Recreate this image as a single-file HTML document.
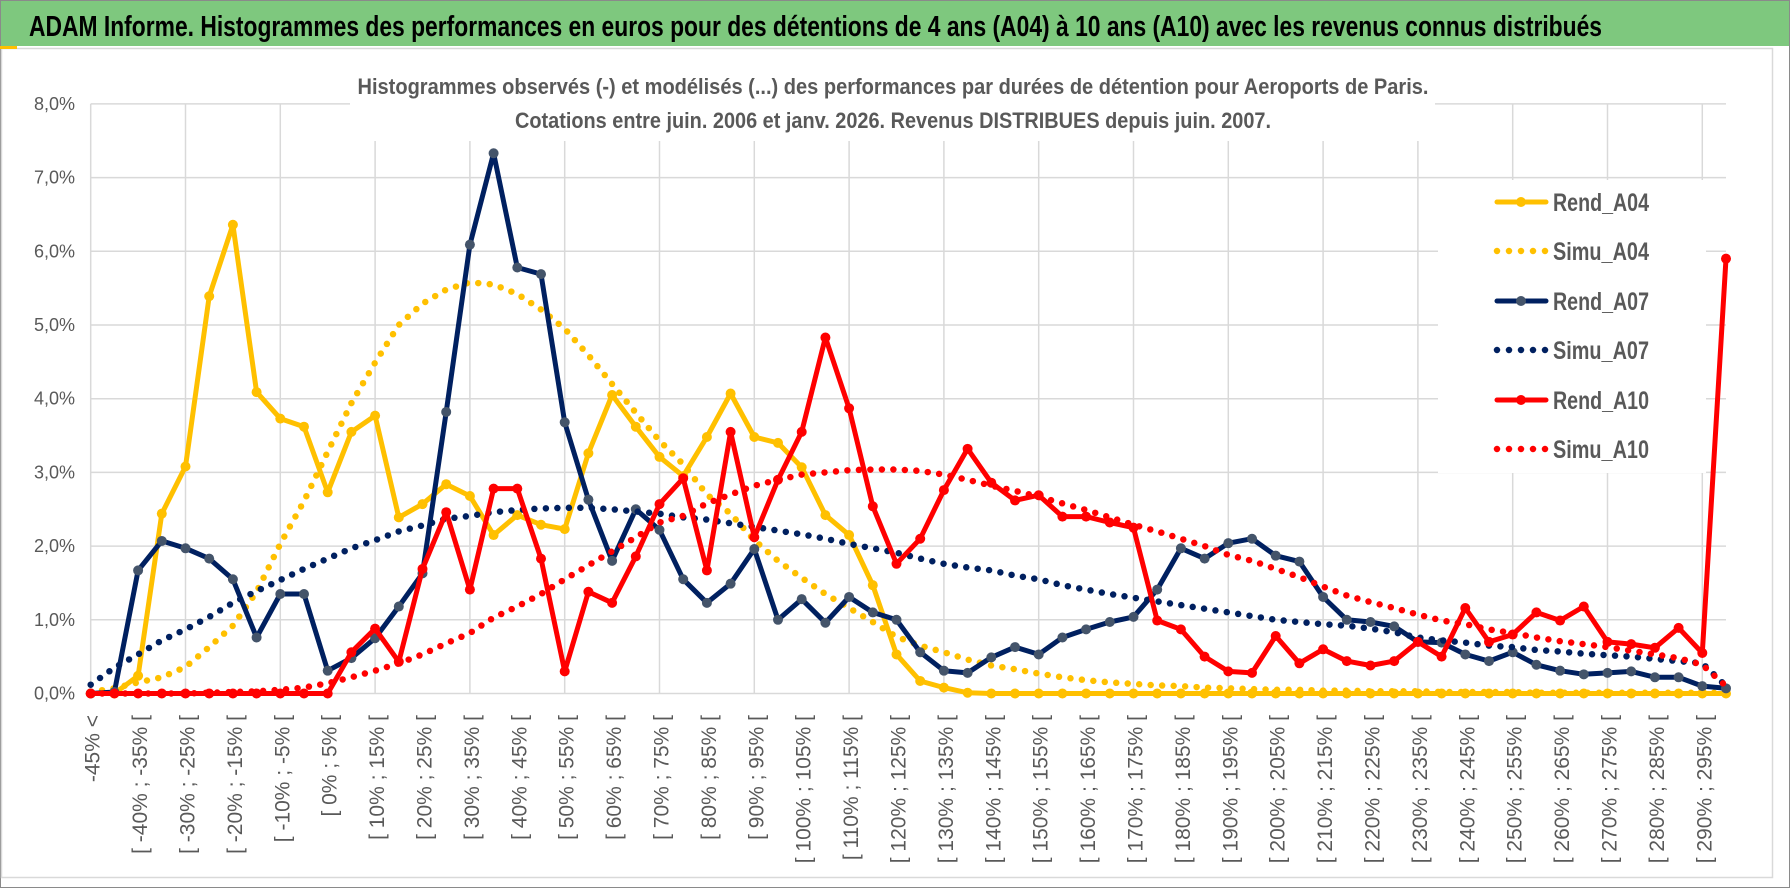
<!DOCTYPE html>
<html><head><meta charset="utf-8">
<style>
html,body{margin:0;padding:0;background:#fff;}
svg{display:block;}
text{font-family:"Liberation Sans",sans-serif;}
</style></head>
<body>
<svg id="chart" width="1790" height="888" viewBox="0 0 1790 888" xmlns="http://www.w3.org/2000/svg">
  <rect x="0" y="0" width="1790" height="888" fill="#fff"/>
  <rect x="0.5" y="0.5" width="1789" height="887" fill="none" stroke="#8a8a8a" stroke-width="1"/>
  <rect x="1" y="1" width="1788" height="45" fill="#7ec87e"/>
  <text x="29" y="36" font-size="29" font-weight="bold" fill="#000" textLength="1573" lengthAdjust="spacingAndGlyphs">ADAM Informe. Histogrammes des performances en euros pour des détentions de 4 ans (A04) à 10 ans (A10) avec les revenus connus distribués</text>
  <rect x="1.5" y="48.5" width="1771" height="829" fill="none" stroke="#d9d9d9" stroke-width="1.5"/>
  <rect x="0" y="46" width="17" height="3" fill="#ffc000"/>
  <g id="grid"></g>
  <rect x="350" y="64" width="1085" height="77" fill="#fff"/>
  <text x="893" y="94" font-size="22" font-weight="bold" fill="#595959" text-anchor="middle" textLength="1071" lengthAdjust="spacingAndGlyphs">Histogrammes observés (-) et modélisés (...) des performances par durées de détention pour Aeroports de Paris.</text>
  <text x="893" y="128" font-size="22" font-weight="bold" fill="#595959" text-anchor="middle" textLength="756" lengthAdjust="spacingAndGlyphs">Cotations entre juin. 2006 et janv. 2026. Revenus DISTRIBUES depuis juin. 2007.</text>
  <g id="yaxis"></g>
  <g id="xaxis"></g>
  <g id="series"></g>
  <g id="legend"></g>
</svg>
<script>
const rendA04 = [0,0,0.24,2.44,3.08,5.39,6.36,4.09,3.73,3.62,2.73,3.55,3.77,2.39,2.57,2.84,2.68,2.15,2.42,2.29,2.23,3.26,4.05,3.62,3.21,2.95,3.48,4.07,3.48,3.40,3.07,2.42,2.15,1.47,0.53,0.17,0.08,0.01,0,0,0,0,0,0,0,0,0,0,0,0,0,0,0,0,0,0,0,0,0,0,0,0,0,0,0,0,0,0,0,0];
const simuA04 = [0.02,0.07,0.15,0.22,0.36,0.63,0.92,1.38,2.03,2.61,3.28,3.94,4.49,5.0,5.29,5.48,5.58,5.55,5.42,5.21,4.95,4.59,4.2,3.81,3.43,3.11,2.70,2.44,2.08,1.80,1.57,1.35,1.16,0.97,0.77,0.65,0.56,0.46,0.38,0.33,0.27,0.22,0.18,0.15,0.13,0.11,0.10,0.08,0.07,0.06,0.05,0.05,0.04,0.04,0.03,0.03,0.03,0.02,0.02,0.02,0.02,0.01,0.01,0.01,0.01,0.01,0.01,0.01,0.01,0.01];
const rendA07 = [0,0.02,1.67,2.07,1.97,1.83,1.55,0.76,1.35,1.35,0.31,0.48,0.75,1.18,1.63,3.82,6.09,7.33,5.78,5.69,3.68,2.63,1.80,2.50,2.22,1.55,1.23,1.49,1.96,1.00,1.28,0.96,1.31,1.10,1.00,0.56,0.31,0.28,0.49,0.63,0.53,0.76,0.87,0.97,1.04,1.41,1.97,1.83,2.04,2.10,1.87,1.79,1.31,1.00,0.97,0.91,0.70,0.69,0.53,0.44,0.56,0.39,0.31,0.26,0.28,0.30,0.22,0.22,0.10,0.07];
const simuA07 = [0.12,0.35,0.53,0.72,0.87,1.04,1.23,1.39,1.54,1.69,1.83,1.97,2.08,2.2,2.28,2.37,2.41,2.46,2.49,2.51,2.52,2.52,2.50,2.47,2.44,2.39,2.36,2.31,2.26,2.21,2.16,2.10,2.03,1.97,1.91,1.83,1.76,1.71,1.67,1.60,1.55,1.47,1.41,1.35,1.30,1.25,1.20,1.15,1.10,1.05,1.00,0.97,0.94,0.92,0.88,0.83,0.76,0.72,0.69,0.65,0.63,0.59,0.57,0.54,0.52,0.50,0.47,0.44,0.41,0.10];
const rendA10 = [0,0,0,0,0,0,0,0,0,0,0,0.56,0.88,0.43,1.69,2.46,1.41,2.78,2.78,1.83,0.30,1.38,1.23,1.86,2.57,2.92,1.67,3.55,2.12,2.90,3.55,4.83,3.87,2.54,1.76,2.10,2.76,3.32,2.86,2.62,2.69,2.40,2.40,2.32,2.25,0.99,0.87,0.50,0.30,0.28,0.78,0.41,0.60,0.44,0.38,0.44,0.70,0.50,1.16,0.70,0.80,1.10,0.99,1.18,0.70,0.67,0.62,0.89,0.55,5.90];
const simuA10 = [0,0,0,0,0,0.01,0.02,0.03,0.05,0.08,0.14,0.22,0.31,0.41,0.53,0.68,0.82,1.03,1.18,1.35,1.55,1.74,1.93,2.12,2.32,2.41,2.58,2.70,2.82,2.90,2.97,3.0,3.03,3.04,3.04,3.02,2.97,2.90,2.82,2.75,2.67,2.58,2.49,2.39,2.29,2.20,2.10,2.0,1.88,1.80,1.69,1.58,1.45,1.33,1.24,1.16,1.07,0.99,0.94,0.87,0.82,0.76,0.71,0.67,0.63,0.58,0.53,0.48,0.39,0.10];
const yTicks = [0,1,2,3,4,5,6,7,8];
const yTickLabels = ["0,0%","1,0%","2,0%","3,0%","4,0%","5,0%","6,0%","7,0%","8,0%"];
const categories = ["-45% <"];
for (let a = -45; a <= 295; a += 5) categories.push("[ " + a + "% ; " + (a + 5) + "% [");

const NS = "http://www.w3.org/2000/svg";
const X0 = 90.7, DX = 23.7, Y0 = 693.5, DY = 73.7, XR = 1726;
const xs = i => X0 + DX * i;
const ys = v => Y0 - v * DY;
function mk(tag, attrs, parent) {
  const e = document.createElementNS(NS, tag);
  for (const k in attrs) e.setAttribute(k, attrs[k]);
  parent.appendChild(e);
  return e;
}
const grid = document.getElementById('grid');
yTicks.forEach(t => {
  const l = mk('line', {x1: X0, x2: XR, y1: ys(t), y2: ys(t), stroke: '#d9d9d9', 'stroke-width': 1.5}, grid);
  
  
});
for (let i = 0; i < categories.length; i += 4) {
  const l = mk('line', {x1: xs(i), x2: xs(i), y1: ys(8), y2: ys(0), stroke: '#d9d9d9', 'stroke-width': 1.5}, grid);
  
  
}
const yaxis = document.getElementById('yaxis');
yTicks.forEach((t, k) => {
  const tx = mk('text', {x: 75, y: ys(t) + 6, 'font-size': 18, fill: '#595959', 'text-anchor': 'end'}, yaxis);
  tx.textContent = yTickLabels[k];
  
  
});
const xaxis = document.getElementById('xaxis');
categories.forEach((c, i) => {
  if (i % 2) return;
  const x = xs(i) + 9, y = 715;
  const tx = mk('text', {x: x, y: y, 'font-size': 21, fill: '#595959', 'text-anchor': 'end', transform: 'rotate(-90 ' + x + ' ' + y + ')'}, xaxis);
  tx.textContent = c;
  
  
});
const sg = document.getElementById('series');
const seriesDefs = [
  {name: 'Rend_A04', data: rendA04, color: '#ffc000', marker: '#ffc000', dotted: false},
  {name: 'Simu_A04', data: simuA04, color: '#ffc000', dotted: true},
  {name: 'Rend_A07', data: rendA07, color: '#002060', marker: '#44546a', dotted: false},
  {name: 'Simu_A07', data: simuA07, color: '#002060', dotted: true},
  {name: 'Rend_A10', data: rendA10, color: '#ff0000', marker: '#ff0000', dotted: false},
  {name: 'Simu_A10', data: simuA10, color: '#ff0000', dotted: true}
];
seriesDefs.forEach(s => {
  const g = mk('g', {}, sg);
  
  
  const pts = s.data.map((v, i) => xs(i).toFixed(1) + ',' + ys(v).toFixed(1)).join(' ');
  const attrs = {points: pts, fill: 'none', stroke: s.color, 'stroke-linejoin': 'round', 'stroke-linecap': 'round'};
  if (s.dotted) { attrs['stroke-width'] = 6.5; attrs['stroke-dasharray'] = '0 11.5'; }
  else attrs['stroke-width'] = 5;
  const pl = mk('polyline', attrs, g);
  
  
  if (!s.dotted) {
    s.data.forEach((v, i) => {
      const c = mk('circle', {cx: xs(i), cy: ys(v), r: 5, fill: s.marker}, g);
      
      
    });
  }
});
const lg = document.getElementById('legend');
const lbg = mk('rect', {x: 1438, y: 180, width: 268, height: 293, fill: '#fff'}, lg);


const legendY = [202, 251, 301, 350, 400, 449];
seriesDefs.forEach((s, k) => {
  const y = legendY[k];
  const g = mk('g', {}, lg);
  
  
  if (s.dotted) {
    mk('line', {x1: 1497, x2: 1547, y1: y, y2: y, stroke: s.color, 'stroke-width': 6.5, 'stroke-linecap': 'round', 'stroke-dasharray': '0 12'}, g);
  } else {
    mk('line', {x1: 1497, x2: 1546, y1: y, y2: y, stroke: s.color, 'stroke-width': 5, 'stroke-linecap': 'round'}, g);
    mk('circle', {cx: 1521, cy: y, r: 5, fill: s.marker}, g);
  }
  const t = mk('text', {x: 1553, y: y + 9, 'font-size': 25, 'font-weight': 'bold', fill: '#595959', textLength: 96, lengthAdjust: 'spacingAndGlyphs'}, g);
  t.textContent = s.name;
});
</script>
</body></html>
